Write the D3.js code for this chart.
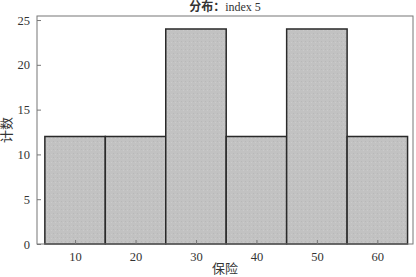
<!DOCTYPE html>
<html>
<head>
<meta charset="utf-8">
<script src="https://cdn.jsdelivr.net/npm/d3@7"></script>
<style>
  body { margin: 0; background: #fff; }
  text { font-family: "Liberation Serif", "Noto Sans CJK SC", serif; fill: #333; }
</style>
</head>
<body>
<script>
// histogram bins (edges) and counts
var binStarts = [5, 15, 25, 35, 45, 55];
var binWidth = 10;
var counts = [12, 12, 24, 12, 24, 12];
var xTicks = [10, 20, 30, 40, 50, 60];
var yTicks = [0, 5, 10, 15, 20, 25];

var width = 416, height = 277;
var margin = {top: 16, right: 3, bottom: 33, left: 37};

var svg = d3.select("body").append("svg")
    .attr("width", width)
    .attr("height", height);

// plain gray texture-ish fill
var defs = svg.append("defs");
var pat = defs.append("pattern")
    .attr("id", "grain")
    .attr("width", 4).attr("height", 4)
    .attr("patternUnits", "userSpaceOnUse");
pat.append("rect").attr("width", 4).attr("height", 4).attr("fill", "#c2c2c2");
pat.append("rect").attr("x", 1).attr("y", 1).attr("width", 1).attr("height", 1).attr("fill", "#b8b8b8");
pat.append("rect").attr("x", 3).attr("y", 2).attr("width", 1).attr("height", 1).attr("fill", "#cbcbcb");

var x = d3.scaleLinear()
    .domain([3.7, 65.9])
    .range([margin.left, width - margin.right]);

var y = d3.scaleLinear()
    .domain([0, 25.45])
    .range([height - margin.bottom, margin.top]);

// bars
svg.selectAll("rect.bar")
    .data(counts)
    .enter()
    .append("rect")
    .attr("class", "bar")
    .attr("x", function(d, i) { return x(binStarts[i]); })
    .attr("y", function(d) { return y(d); })
    .attr("width", function(d, i) { return x(binStarts[i] + binWidth) - x(binStarts[i]); })
    .attr("height", function(d) { return y(0) - y(d); })
    .attr("fill", "url(#grain)")
    .attr("stroke", "#2a2a2a")
    .attr("stroke-width", 1.5);

// frame
svg.append("rect")
    .attr("x", margin.left)
    .attr("y", margin.top)
    .attr("width", width - margin.left - margin.right)
    .attr("height", height - margin.top - margin.bottom)
    .attr("fill", "none")
    .attr("stroke", "#777")
    .attr("stroke-width", 1);

// axes with inward ticks
var xAxis = svg.append("g")
    .attr("transform", "translate(0," + (height - margin.bottom) + ")")
    .call(d3.axisBottom(x).tickValues(xTicks).tickSizeInner(-4).tickSizeOuter(0).tickPadding(8));

var yAxis = svg.append("g")
    .attr("transform", "translate(" + margin.left + ",0)")
    .call(d3.axisLeft(y).tickValues(yTicks).tickSizeInner(-4).tickSizeOuter(0).tickPadding(7));

[xAxis, yAxis].forEach(function(g) {
    g.select(".domain").remove();
    g.selectAll(".tick line").attr("stroke", "#777");
    g.selectAll(".tick text")
        .style("font-family", "'Liberation Serif', serif")
        .style("font-size", "12.5px")
        .attr("fill", "#333");
});

// title
var title = svg.append("text")
    .attr("x", (margin.left + width - margin.right) / 2)
    .attr("y", 11)
    .attr("text-anchor", "middle")
    .style("font-size", "12px");
title.append("tspan").style("font-weight", "bold").text("分布：");
title.append("tspan").text("index 5");

// axis labels
svg.append("text")
    .attr("x", (margin.left + width - margin.right) / 2)
    .attr("y", 273)
    .attr("text-anchor", "middle")
    .style("font-size", "13px")
    .text("保险");

svg.append("text")
    .attr("transform", "translate(11," + ((margin.top + height - margin.bottom) / 2) + ") rotate(-90)")
    .attr("text-anchor", "middle")
    .style("font-size", "13px")
    .text("计数");
</script>
</body>
</html>
